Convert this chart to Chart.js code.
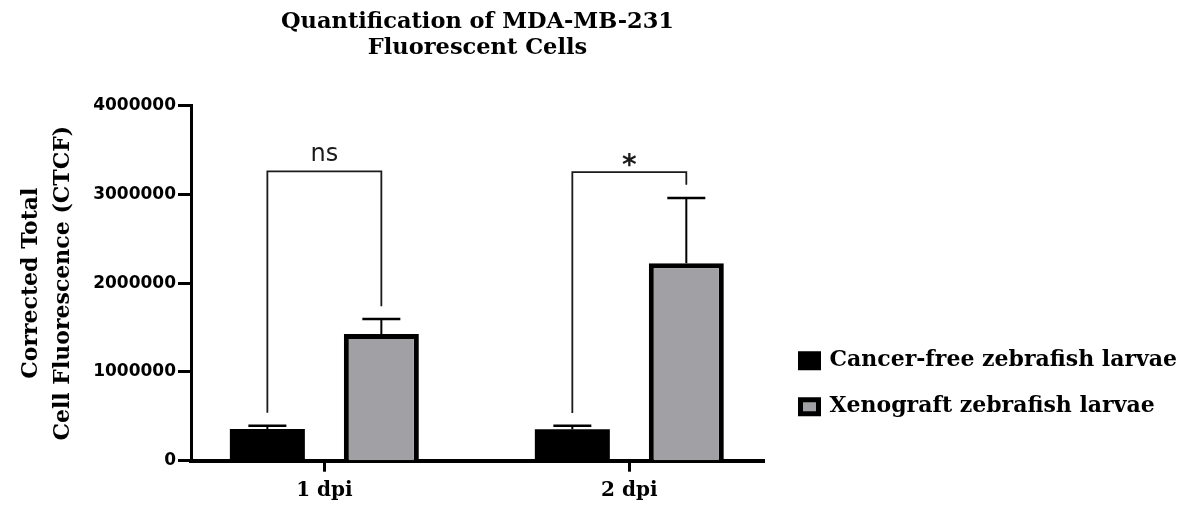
<!DOCTYPE html>
<html>
<head>
<meta charset="utf-8">
<script src="https://cdn.jsdelivr.net/npm/chart.js@4.4.1/dist/chart.umd.min.js"></script>
<style>
  html, body { margin: 0; padding: 0; background: #ffffff; }
  #wrap { width: 1187px; height: 511px; position: relative; }
</style>
</head>
<body>
<div id="wrap"><canvas id="chart"></canvas></div>
<script>
// Time points along the x axis and where each sits on the linear index scale
const categories = ['1 dpi', '2 dpi'];
const categoryPositions = [1, 2];

// Mean CTCF per group and the upper error (SD) drawn above each bar
const cancerFree = [357000, 354000];
const cancerFreeSD = [37000, 40000];
const xenograft = [1427000, 2224000];
const xenograftSD = [170000, 736000];

// Y axis ticks
const yTicks = [0, 1000000, 2000000, 3000000, 4000000];

// Significance brackets: label, bracket height, and where each leg ends
const sigLabels = ['ns', '*'];
const sigHeights = [3260000, 3250000];
const sigLeftEnds = [540000, 537000];
const sigRightEnds = [1740000, 3110000];

const serif = '"DejaVu Serif", "Liberation Serif", serif';
const sans = '"DejaVu Sans", "Liberation Sans", sans-serif';

// Right edge of the plotting area; the legend column sits beyond it
const plotRight = 764;

// Error bars, comparison brackets and their labels
const annotations = {
  id: 'annotations',
  afterDatasetsDraw(chart) {
    const { ctx } = chart;
    const y = chart.scales.y;
    const m0 = chart.getDatasetMeta(0);
    const m1 = chart.getDatasetMeta(1);
    ctx.save();
    ctx.strokeStyle = '#000';
    ctx.lineCap = 'butt';
    [[m0, cancerFree, cancerFreeSD], [m1, xenograft, xenograftSD]].forEach(([meta, vals, sds]) => {
      meta.data.forEach((bar, i) => {
        const yBase = y.getPixelForValue(vals[i]);
        const yTop = y.getPixelForValue(vals[i] + sds[i]);
        ctx.lineWidth = 2;
        ctx.beginPath();
        ctx.moveTo(bar.x, yBase);
        ctx.lineTo(bar.x, yTop);
        ctx.stroke();
        ctx.lineWidth = 2.5;
        ctx.beginPath();
        ctx.moveTo(bar.x - 19, yTop);
        ctx.lineTo(bar.x + 19, yTop);
        ctx.stroke();
      });
    });

    sigLabels.forEach((label, i) => {
      const xL = m0.data[i].x;
      const xR = m1.data[i].x;
      const yB = y.getPixelForValue(sigHeights[i]);
      ctx.strokeStyle = '#1a1a1a';
      ctx.lineWidth = 1.8;
      ctx.lineJoin = 'miter';
      ctx.beginPath();
      ctx.moveTo(xL, y.getPixelForValue(sigLeftEnds[i]));
      ctx.lineTo(xL, yB);
      ctx.lineTo(xR, yB);
      ctx.lineTo(xR, y.getPixelForValue(sigRightEnds[i]));
      ctx.stroke();

      ctx.fillStyle = '#1a1a1a';
      ctx.textAlign = 'center';
      ctx.textBaseline = 'alphabetic';
      if (label === '*') {
        ctx.font = 'bold 28px ' + sans;
        ctx.fillText(label, (xL + xR) / 2, yB + 2);
      } else {
        ctx.font = '24px ' + sans;
        ctx.fillText(label, (xL + xR) / 2, yB - 10);
      }
    });
    ctx.restore();
  }
};

// Place the legend column beside the lower half of the plot
const legendPlacement = {
  id: 'legendPlacement',
  beforeDraw(chart) {
    const lg = chart.legend;
    if (!lg) return;
    const w = lg.width, h = lg.height;
    lg.left = chart.chartArea.right + 12.5;
    lg.right = lg.left + w;
    lg.top = chart.chartArea.top + 220;
    lg.bottom = lg.top + h;
  }
};

const chart = new Chart(document.getElementById('chart'), {
  type: 'bar',
  data: {
    datasets: [
      {
        label: 'Cancer-free zebrafish larvae',
        data: categoryPositions.map((x, i) => ({ x, y: cancerFree[i] })),
        backgroundColor: '#000000',
        borderWidth: 0
      },
      {
        label: 'Xenograft zebrafish larvae',
        data: categoryPositions.map((x, i) => ({ x, y: xenograft[i] })),
        backgroundColor: '#a1a1a5',
        borderColor: '#000000',
        borderWidth: 5
      }
    ]
  },
  options: {
    responsive: true,
    maintainAspectRatio: false,
    animation: false,
    events: [],
    categoryPercentage: 0.7475,
    barPercentage: 0.658,
    layout: { padding: { left: 0, right: 0, top: 0, bottom: 0 } },
    plugins: {
      tooltip: { enabled: false },
      title: {
        display: true,
        fullSize: false,
        text: ['Quantification of MDA-MB-231', 'Fluorescent Cells'],
        color: '#000',
        font: { family: serif, size: 22.5, weight: 'bold', lineHeight: 1.17 },
        padding: { top: 9, bottom: 44 }
      },
      legend: {
        display: true,
        position: 'right',
        align: 'start',
        fullSize: false,
        maxWidth: 600,
        labels: {
          color: '#000',
          font: { family: serif, size: 22, weight: 'bold' },
          boxWidth: 18,
          boxHeight: 14,
          padding: 24,
          generateLabels(c) {
            return Chart.defaults.plugins.legend.labels.generateLabels(c).map(item => ({
              ...item,
              lineWidth: 5,
              strokeStyle: '#000000'
            }));
          }
        }
      }
    },
    scales: {
      x: {
        type: 'linear',
        offset: false,
        min: 0.5627,
        max: 2.4416,
        afterBuildTicks(scale) {
          scale.ticks = categoryPositions.map(v => ({ value: v }));
        },
        afterFit(scale) { scale.height = 50.3; },
        ticks: {
          color: '#000',
          font: { family: serif, size: 20, weight: 'bold' },
          padding: 7,
          callback: v => categories[categoryPositions.indexOf(v)]
        },
        grid: {
          display: true,
          offset: false,
          drawOnChartArea: false,
          drawTicks: true,
          tickLength: 11,
          tickWidth: 3,
          tickColor: '#000'
        },
        border: { display: true, color: '#000', width: 4 }
      },
      y: {
        min: 0,
        max: 4000000,
        afterBuildTicks(scale) {
          scale.ticks = yTicks.map(v => ({ value: v }));
        },
        afterFit(scale) { scale.width = 191; },
        ticks: {
          color: '#000',
          font: { family: sans, size: 17, weight: 'bold' },
          padding: 2,
          callback: v => String(v)
        },
        grid: {
          display: true,
          drawOnChartArea: false,
          drawTicks: true,
          tickLength: 13,
          tickWidth: 3,
          tickColor: '#000'
        },
        border: { display: true, color: '#000', width: 3 },
        title: {
          display: true,
          text: ['Corrected Total', 'Cell Fluorescence (CTCF)'],
          color: '#000',
          font: { family: serif, size: 22, weight: 'bold', lineHeight: 1.45 },
          padding: { top: 15, bottom: 0 }
        }
      }
    }
  },
  plugins: [annotations, legendPlacement]
});

// Pad the right side so the plot area ends at plotRight, leaving the rest to the legend
const extra = chart.chartArea.right - plotRight;
if (Math.abs(extra) > 0.25) {
  chart.options.layout.padding.right = Math.max(0, extra);
  chart.update();
}
</script>
</body>
</html>
